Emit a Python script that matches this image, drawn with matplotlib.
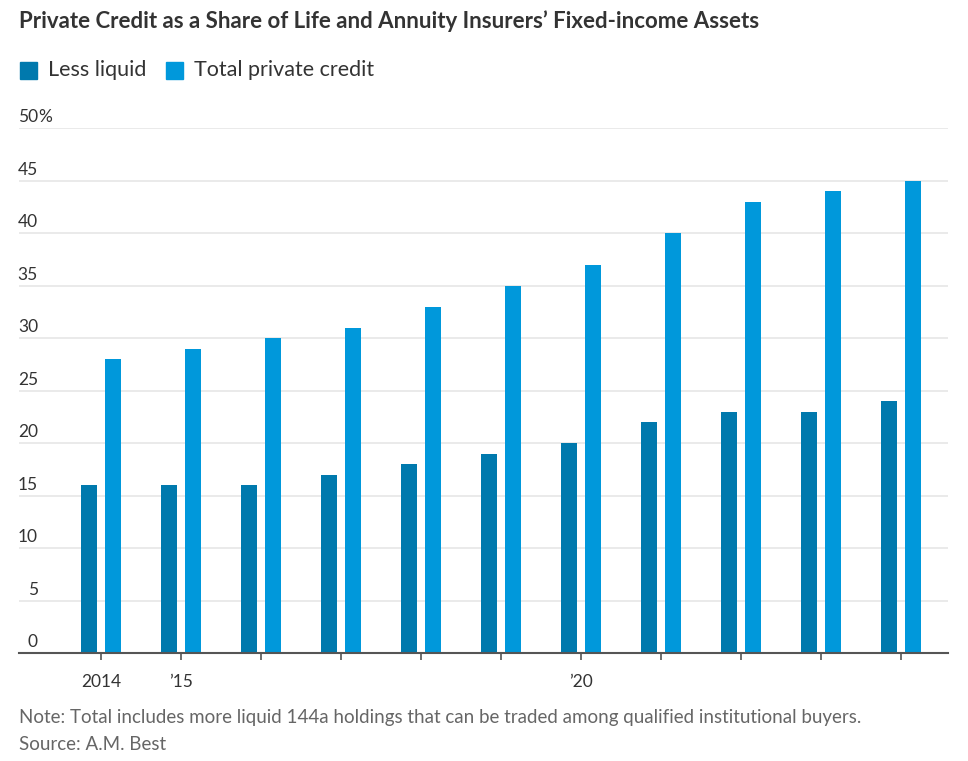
import numpy as np
import matplotlib.pyplot as plt
import matplotlib.transforms as mtrans
from matplotlib.patches import Rectangle

plt.rcParams['font.family'] = ['Lato', 'DejaVu Sans']

years = [2014, 2015, 2016, 2017, 2018, 2019, 2020, 2021, 2022, 2023, 2024]
less_liquid = [16, 16, 16, 17, 18, 19, 20, 22, 23, 23, 24]
total_private = [28, 29, 30, 31, 33, 35, 37, 40, 43, 44, 45]
year_labels = {2014: '2014', 2015: '\u201915', 2020: '\u201920'}
y_ticks = [0, 5, 10, 15, 20, 25, 30, 35, 40, 45, 50]

c_dark = '#0079ad'
c_light = '#0098db'
c_text = '#333333'

W, H = 968, 761
fig = plt.figure(figsize=(W / 100, H / 100), dpi=100)
ax = fig.add_axes([19 / W, 1 - 653 / H, (948 - 19) / W, (653 - 128) / H])

x = np.arange(len(years))
bw = 0.19
ax.bar(x - 0.15, less_liquid, width=bw, color=c_dark, zorder=3)
ax.bar(x + 0.15, total_private, width=bw, color=c_light, zorder=3)

ax.set_xlim(-1.025, len(years) - 1 + 0.5875)
ax.set_ylim(0, 50)

for v in y_ticks[1:]:
    ax.axhline(v, color='#e6e6e6', lw=1.2, zorder=1)

trans = mtrans.blended_transform_factory(fig.transFigure, ax.transData)
for v in y_ticks:
    ax.text(38 / W, v + 0.25, str(v), transform=trans, ha='right', va='bottom',
            fontsize=12.5, color=c_text)
ax.text(38 / W, 50.25, '%', transform=trans, ha='left', va='bottom',
        fontsize=12.5, color=c_text)

ax.set_xticks(x)
ax.set_xticklabels([year_labels.get(y, '') for y in years])
ax.set_yticks([])
ax.tick_params(axis='x', length=5, width=1.2, color='#555555', labelsize=12.5,
               labelcolor=c_text, pad=10)
for s in ['top', 'right', 'left']:
    ax.spines[s].set_visible(False)
ax.spines['bottom'].set_color('#555555')
ax.spines['bottom'].set_linewidth(1.5)
ax.spines['bottom'].set_zorder(4)

fig.text(19 / W, 1 - 21 / H, 'Private Credit as a Share of Life and Annuity Insurers\u2019 Fixed-income Assets',
         fontsize=16, fontweight='bold', color=c_text, va='center', ha='left')

fig.patches.append(Rectangle((20 / W, 1 - 79 / H), 17 / W, 17 / H, transform=fig.transFigure,
                             color=c_dark, figure=fig))
fig.text(48 / W, 1 - 70 / H, 'Less liquid', fontsize=15.5, color=c_text, va='center')
fig.patches.append(Rectangle((166 / W, 1 - 79 / H), 17 / W, 17 / H, transform=fig.transFigure,
                             color=c_light, figure=fig))
fig.text(194 / W, 1 - 70 / H, 'Total private credit', fontsize=15.5, color=c_text, va='center')

fig.text(19 / W, 1 - 718 / H,
         'Note: Total includes more liquid 144a holdings that can be traded among qualified institutional buyers.',
         fontsize=13.5, color='#666666', va='center')
fig.text(19 / W, 1 - 745 / H, 'Source: A.M. Best', fontsize=13.5, color='#666666', va='center')

fig.savefig('out.png', dpi=100)
